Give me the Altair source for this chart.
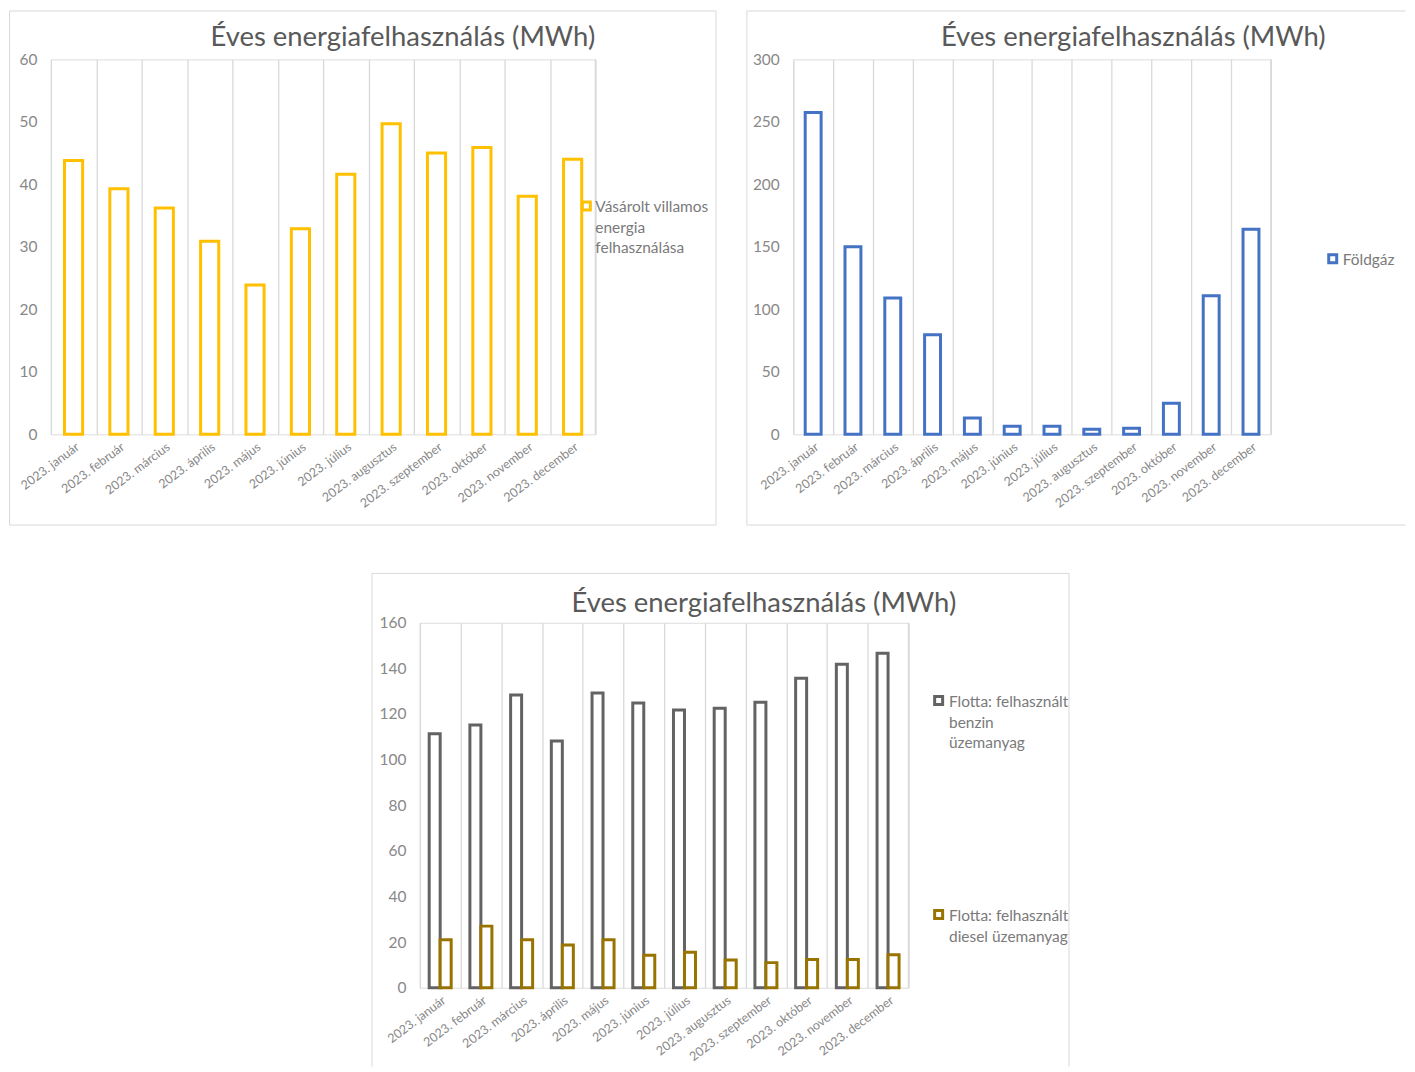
import altair as alt
import pandas as pd

# ---------------- data ----------------
months = ["2023. január", "2023. február", "2023. március", "2023. április",
          "2023. május", "2023. június", "2023. július", "2023. augusztus",
          "2023. szeptember", "2023. október", "2023. november", "2023. december"]

villamos = [43.8, 39.3, 36.2, 30.9, 23.9, 32.9, 41.6, 49.7, 45.0, 45.9, 38.1, 44.0]
foldgaz = [257.5, 150.0, 109.0, 79.6, 13.0, 6.5, 6.5, 4.1, 4.9, 24.9, 110.8, 164.0]
benzin = [111.3, 115.2, 128.3, 108.2, 129.2, 124.8, 121.7, 122.5, 125.2, 135.7, 141.8, 146.6]
diesel = [21.0, 27.0, 21.0, 18.7, 21.0, 14.2, 15.6, 12.1, 11.0, 12.4, 12.4, 14.5]

title_text = "Éves energiafelhasználás (MWh)"
name_villamos = ["Vásárolt villamos", "energia", "felhasználása"]
name_foldgaz = ["Földgáz"]
name_benzin = ["Flotta: felhasznált", "benzin", "üzemanyag"]
name_diesel = ["Flotta: felhasznált", "diesel üzemanyag"]

col_villamos = "#FFC000"
col_foldgaz = "#4472C4"
col_benzin = "#636363"
col_diesel = "#997300"

FONT = "Lato"
TITLE_COL = "#595959"
LABEL_COL = "#888888"
LEGEND_COL = "#7a7a7a"
BORDER_COL = "#d9d9d9"
GRID_COL = "#d9d9d9"

one = pd.DataFrame({"_": [0]})


def rule(x1, x2, y1, y2, color=BORDER_COL, sw=1):
    return alt.Chart(one).mark_rule(color=color, strokeWidth=sw).encode(
        x=alt.value(x1), x2=alt.value(x2), y=alt.value(y1), y2=alt.value(y2))


def title_mark(x, y):
    return alt.Chart(one).mark_text(
        text=title_text, font=FONT, fontSize=27.5, color=TITLE_COL,
        align="center", baseline="alphabetic").encode(x=alt.value(x), y=alt.value(y))


def legend_item(sx, sy, tx, ty, lines, color):
    sq = alt.Chart(one).mark_square(size=64, fill="white", stroke=color, strokeWidth=3,
                                    opacity=1).encode(x=alt.value(sx), y=alt.value(sy))
    tx_ = alt.Chart(one).mark_text(
        text=lines, font=FONT, fontSize=15.5, color=LEGEND_COL, align="left",
        baseline="alphabetic", lineHeight=20.7).encode(x=alt.value(tx), y=alt.value(ty))
    return [sq, tx_]


def x_enc():
    return alt.X("honap:N", sort=months, title=None,
                 scale=alt.Scale(paddingInner=0, paddingOuter=0),
                 axis=alt.Axis(labelAngle=-37, grid=True, tickBand="extent", ticks=False,
                               domain=False, labelPadding=6, labelFontSize=12.5,
                               labelColor=LABEL_COL, gridColor=GRID_COL, gridWidth=1.3,
                               labelOverlap=False, labelFont=FONT))


def y_enc(field, top, step):
    return alt.Y(field, title=None, scale=alt.Scale(domain=[0, top], nice=False),
                 axis=alt.Axis(values=list(range(0, top + 1, step)), grid=False, ticks=False,
                               domain=False, labelPadding=14, labelFontSize=15.5,
                               labelColor=LABEL_COL, labelOverlap=False, labelFont=FONT))


TOP = -48.5

# ---------------- chart 1 ----------------
W1, H1 = 546, 376
df1 = pd.DataFrame({"honap": months, "ertek": villamos})
bars1 = alt.Chart(df1).mark_bar(fill="white", stroke=col_villamos, strokeWidth=3,
                                width=alt.RelativeBandSize(0.4)).encode(
    x=x_enc(), y=y_enc("ertek:Q", 60, 10))
c1 = alt.layer(
    rule(-41.5, 667, TOP, TOP), rule(-41.5, 667, 467, 467),
    rule(-41.5, -41.5, TOP, 467), rule(667, 667, TOP, 467),
    title_mark(353, -13),
    bars1,
    rule(W1, W1, 0, H1, GRID_COL, 1.3),
    *legend_item(537, 147, 546, 153, name_villamos, col_villamos),
).properties(width=W1, height=H1)

# ---------------- chart 2 ----------------
W2, H2 = 479, 376
df2 = pd.DataFrame({"honap": months, "ertek": foldgaz})
bars2 = alt.Chart(df2).mark_bar(fill="white", stroke=col_foldgaz, strokeWidth=3,
                                width=alt.RelativeBandSize(0.4)).encode(
    x=x_enc(), y=y_enc("ertek:Q", 300, 50))
c2 = alt.layer(
    rule(-46.5, 614, TOP, TOP), rule(-46.5, 614, 467, 467),
    rule(-46.5, -46.5, TOP, 467),
    title_mark(341, -13),
    bars2,
    rule(W2, W2, 0, H2, GRID_COL, 1.3),
    *legend_item(541, 200, 551, 206, name_foldgaz, col_foldgaz),
).properties(width=W2, height=H2)

# ---------------- chart 3 ----------------
W3, H3 = 490, 366
s_benzin = " ".join(name_benzin)
s_diesel = " ".join(name_diesel)
df3 = pd.DataFrame({
    "honap": months * 2,
    "sorozat": [s_benzin] * 12 + [s_diesel] * 12,
    "ertek": benzin + diesel,
})
bars3 = alt.Chart(df3).mark_bar(fill="white", strokeWidth=3).encode(
    x=x_enc(),
    xOffset=alt.XOffset("sorozat:N", sort=[s_benzin, s_diesel],
                        scale=alt.Scale(domain=[s_benzin, s_diesel], paddingOuter=0.85,
                                        paddingInner=0)),
    y=y_enc("ertek:Q", 160, 20),
    stroke=alt.Stroke("sorozat:N", scale=alt.Scale(domain=[s_benzin, s_diesel],
                                                   range=[col_benzin, col_diesel]),
                      legend=None),
)
c3 = alt.layer(
    rule(-48, 651, -49.5, -49.5),
    rule(-48, -48, -49.5, 445), rule(651, 651, -49.5, 445),
    title_mark(345, -11),
    bars3,
    rule(W3, W3, 0, H3, GRID_COL, 1.3),
    *legend_item(520.3, 78, 530.7, 84.5, name_benzin, col_benzin),
    *legend_item(520.3, 292.5, 530.7, 299, name_diesel, col_diesel),
).properties(width=W3, height=H3)

SP = 321
spacer = alt.Chart(one).mark_rule(color="white", strokeWidth=1, strokeOpacity=0).encode(
    x=alt.value(0), x2=alt.value(SP), y=alt.value(0)).properties(
    width=SP, height=1, view=alt.ViewBackground(stroke="white", strokeOpacity=0))

top = alt.hconcat(c1, c2, spacing=28.5)
bottom = alt.hconcat(spacer, c3, spacing=0)
chart = alt.vconcat(top, bottom, spacing=46, padding=0).configure_view(
    stroke=None).configure(font=FONT, background="white")

chart.save("out.html", embed_options={"renderer": "svg", "actions": False})
